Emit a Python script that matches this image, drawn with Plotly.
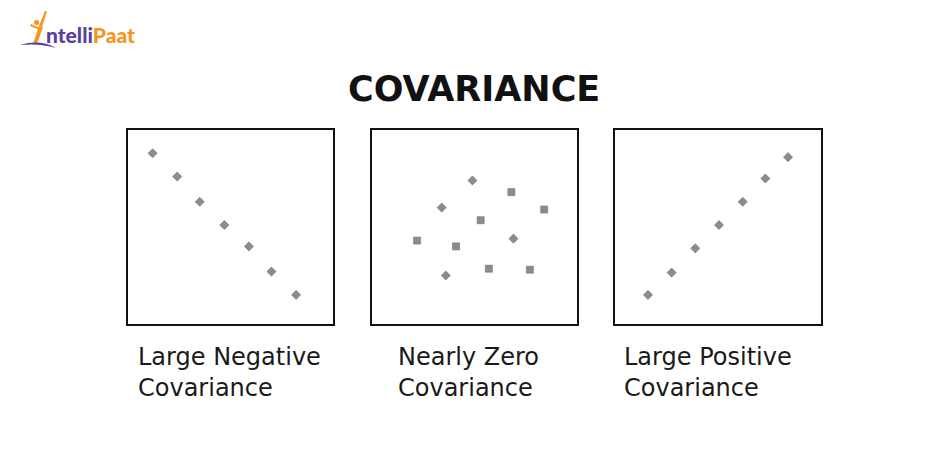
import plotly.graph_objects as go

W, H = 950, 451

# ---- data (axes 0..10) ----
neg_x = [1.2, 2.4, 3.5, 4.7, 5.9, 7.0, 8.2]
neg_y = [8.8, 7.6, 6.3, 5.1, 4.0, 2.7, 1.5]

zero_diamond_x = [4.9, 3.4, 6.9, 3.6]
zero_diamond_y = [7.4, 6.0, 4.4, 2.5]
zero_square_x = [6.8, 8.4, 5.3, 2.2, 4.1, 5.7, 7.7]
zero_square_y = [6.8, 5.9, 5.35, 4.3, 4.0, 2.85, 2.8]

pos_x = [1.6, 2.75, 3.9, 5.05, 6.2, 7.3, 8.4]
pos_y = [1.5, 2.65, 3.9, 5.1, 6.3, 7.5, 8.6]

title_text = "COVARIANCE"
panel_labels = ["Large Negative<br>Covariance", "Nearly Zero<br>Covariance", "Large Positive<br>Covariance"]

# ---- layout helpers (target pixels -> paper; page has an ~8px body offset) ----
OFF = 8

def px(x):
    return (x - OFF) / W

def py(y):
    return 1 - (y - OFF) / H

panel_px = [(128, 333), (372, 577), (615, 821)]
top_px, bot_px = 130, 324

MCOL = "#8c8c8c"
MLINE = "#6e6e6e"

fig = go.Figure()

def add_pts(x, y, sym, size, axis_idx):
    sfx = "" if axis_idx == 1 else str(axis_idx)
    fig.add_trace(go.Scatter(
        x=x, y=y, mode="markers",
        marker=dict(symbol=sym, size=size, color=MCOL, line=dict(color=MLINE, width=0.6)),
        xaxis="x" + sfx, yaxis="y" + sfx, showlegend=False, hoverinfo="skip"))

add_pts(neg_x, neg_y, "diamond", 7, 1)
add_pts(zero_diamond_x, zero_diamond_y, "diamond", 7, 2)
add_pts(zero_square_x, zero_square_y, "square", 7, 2)
add_pts(pos_x, pos_y, "diamond", 7, 3)

axis_common = dict(range=[0, 10], showgrid=False, zeroline=False, showticklabels=False,
                   ticks="", showline=True, mirror=True, linecolor="#111111", linewidth=2,
                   fixedrange=True)

layout = dict(
    width=W, height=H, margin=dict(l=0, r=0, t=0, b=0),
    paper_bgcolor="white", plot_bgcolor="white", showlegend=False,
)
for i, (l, r) in enumerate(panel_px, start=1):
    sfx = "" if i == 1 else str(i)
    layout["xaxis" + sfx] = dict(domain=[px(l), px(r)], anchor="y" + sfx, **axis_common)
    layout["yaxis" + sfx] = dict(domain=[py(bot_px), py(top_px)], anchor="x" + sfx, **axis_common)
fig.update_layout(**layout)

annotations = []
# title
annotations.append(dict(text=title_text, x=px(474), y=py(89), xref="paper", yref="paper",
                        xanchor="center", yanchor="middle", showarrow=False,
                        font=dict(family="DejaVu Sans", size=35, color="#111111", weight=700)))
# labels
label_x = [136, 396, 622]
for lx, txt in zip(label_x, panel_labels):
    annotations.append(dict(text=txt, x=px(lx), y=py(341), xref="paper", yref="paper",
                            xanchor="left", yanchor="top", align="left", showarrow=False,
                            font=dict(family="DejaVu Sans", size=24, color="#1a1a1a")))
# logo text
annotations.append(dict(
    text="<span style='color:#5b3fa0'>ntelli</span><span style='color:#f7941d'>Paat</span>",
    x=px(44), y=py(35), xref="paper", yref="paper", xanchor="left", yanchor="middle",
    showarrow=False, font=dict(family="Lato", size=21, weight=900)))
fig.update_layout(annotations=annotations)

# logo figure (decorative shapes)
ORANGE = "#f7941d"
PURPLE = "#5b3fa0"
shapes = [
    # head
    dict(type="circle", xref="paper", yref="paper", x0=px(34), x1=px(39), y0=py(25), y1=py(20),
         fillcolor=ORANGE, line=dict(width=0)),
    # raised arm
    dict(type="path", xref="paper", yref="paper",
         path=f"M {px(39)},{py(26)} L {px(45)},{py(11)} L {px(47)},{py(11)} L {px(42)},{py(27)} Z",
         fillcolor=ORANGE, line=dict(width=0)),
    # body / leg
    dict(type="path", xref="paper", yref="paper",
         path=f"M {px(39)},{py(26)} L {px(43)},{py(27)} L {px(37)},{py(44)} L {px(33)},{py(44)} Z",
         fillcolor=ORANGE, line=dict(width=0)),
    # other arm
    dict(type="path", xref="paper", yref="paper",
         path=f"M {px(31)},{py(24)} L {px(40)},{py(28)} L {px(40)},{py(30)} L {px(30)},{py(26)} Z",
         fillcolor=ORANGE, line=dict(width=0)),
    # swoosh
    dict(type="path", xref="paper", yref="paper",
         path=f"M {px(20)},{py(45)} Q {px(40)},{py(39)} {px(56)},{py(48)} Q {px(40)},{py(43)} {px(20)},{py(45)} Z",
         fillcolor=PURPLE, line=dict(width=0)),
]
fig.update_layout(shapes=shapes)

fig.write_html("out.html")
